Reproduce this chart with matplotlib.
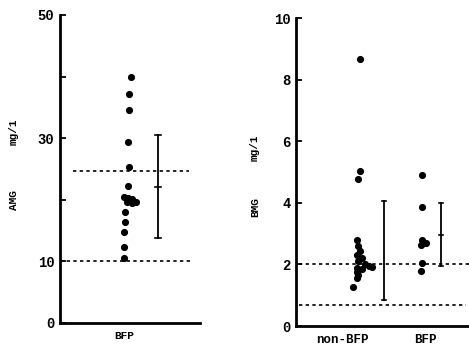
import matplotlib
matplotlib.use("Agg")
import matplotlib.pyplot as plt

# left panel: AMG (mg/l), BFP group
amg_vals = [40.0, 37.2, 34.6, 29.4, 25.3, 22.2, 20.5, 20.3, 20.1, 19.7, 19.5, 19.6,
            18.0, 16.4, 14.8, 12.3, 10.6]
amg_jit = [0.02, 0.01, 0.01, 0.0, 0.01, 0.0, -0.03, 0.0, 0.03, -0.01, 0.03, 0.06,
           -0.02, -0.02, -0.03, -0.03, -0.03]
amg_bar = (13.8, 22.1, 30.5)   # low, mean, high
amg_ref = [24.7, 10.0]

# right panel: BMG (mg/l), non-BFP and BFP groups
bmg_non = [8.68, 5.02, 4.76, 2.8, 2.6, 2.45, 2.3, 2.2, 2.1, 2.0, 1.95, 1.9, 1.88, 1.85,
           1.75, 1.65, 1.55, 1.28]
bmg_non_jit = [0.0, 0.0, -0.01, -0.02, -0.01, 0.0, -0.02, 0.01, -0.01, 0.03, 0.05, 0.07,
               -0.02, 0.01, -0.02, -0.01, -0.02, -0.04]
bmg_bfp = [4.9, 3.86, 2.8, 2.7, 2.62, 2.05, 1.8]
bmg_bfp_jit = [0.0, 0.0, 0.0, 0.02, -0.01, 0.0, -0.01]
bmg_non_bar = (0.85, None, 4.05)
bmg_bfp_bar = (1.95, 2.97, 4.0)
bmg_ref = [2.0, 0.69]

W, H = 469, 354
fig = plt.figure(figsize=(W / 100, H / 100), dpi=100)
font = dict(family="Liberation Mono", fontweight="bold", color="black")


def err(ax, x, lo, mid, hi, cap=0.02):
    ax.plot([x, x], [lo, hi], color="black", lw=1.3)
    ax.plot([x - cap, x + cap], [hi, hi], color="black", lw=1.2)
    ax.plot([x - cap, x + cap], [lo, lo], color="black", lw=1.2)
    if mid is not None:
        ax.plot([x - cap, x + cap], [mid, mid], color="black", lw=1.2)


def style(ax):
    for s in ["top", "right"]:
        ax.spines[s].set_visible(False)
    for s in ["left", "bottom"]:
        ax.spines[s].set_linewidth(2)
    ax.tick_params(axis="y", direction="in", length=4, width=1.3, pad=4)
    ax.tick_params(axis="x", length=0, pad=6)


# ---- left ----
ax1 = fig.add_axes([60 / W, 31 / H, 140 / W, 308 / H])
ax1.set_xlim(0, 1)
ax1.set_ylim(0, 50)
style(ax1)
ax1.set_yticks([0, 10, 20, 30, 40, 50])
ax1.set_yticklabels(["0", "10", "", "30", "", "50"], fontsize=10, **font)
ax1.set_xticks([0.46])
ax1.set_xticklabels(["BFP"], fontsize=8, **font)
ax1.scatter([0.486 + j for j in amg_jit], amg_vals, s=17, color="black", zorder=3)
ax1.plot([0.09, 0.92], [amg_ref[0]] * 2, ls=(0, (2, 2)), color="black", lw=1.2)
ax1.plot([0.0, 0.93], [amg_ref[1]] * 2, ls=(0, (2, 2)), color="black", lw=1.2)
err(ax1, 0.70, *amg_bar)
fig.text(14 / W, 1 - 132 / H, "mg/1", rotation=90, ha="center", va="center", fontsize=8, **font)
fig.text(14 / W, 1 - 200 / H, "AMG", rotation=90, ha="center", va="center", fontsize=8, **font)

# ---- right ----
ax2 = fig.add_axes([296 / W, 28 / H, 173 / W, 308 / H])
ax2.set_xlim(0, 1)
ax2.set_ylim(0, 10)
style(ax2)
ax2.set_yticks([0, 2, 4, 6, 8, 10])
ax2.set_yticklabels(["0", "2", "4", "6", "8", "10"], fontsize=10, **font)
ax2.set_xticks([0.266, 0.75])
ax2.set_xticklabels(["non-BFP", "BFP"], fontsize=9, **font)
ax2.scatter([0.37 + j for j in bmg_non_jit], bmg_non, s=17, color="black", zorder=3)
ax2.scatter([0.73 + j for j in bmg_bfp_jit], bmg_bfp, s=17, color="black", zorder=3)
ax2.plot([0.02, 1.0], [bmg_ref[0]] * 2, ls=(0, (2, 2)), color="black", lw=1.2, clip_on=False)
ax2.plot([0.02, 0.98], [bmg_ref[1]] * 2, ls=(0, (2, 2)), color="black", lw=1.2)
err(ax2, 0.51, *bmg_non_bar, cap=0.012)
err(ax2, 0.84, *bmg_bfp_bar, cap=0.012)
fig.text(255 / W, 1 - 148 / H, "mg/1", rotation=90, ha="center", va="center", fontsize=8, **font)
fig.text(255 / W, 1 - 207 / H, "BMG", rotation=90, ha="center", va="center", fontsize=8, **font)

fig.savefig("out.png", dpi=100)
